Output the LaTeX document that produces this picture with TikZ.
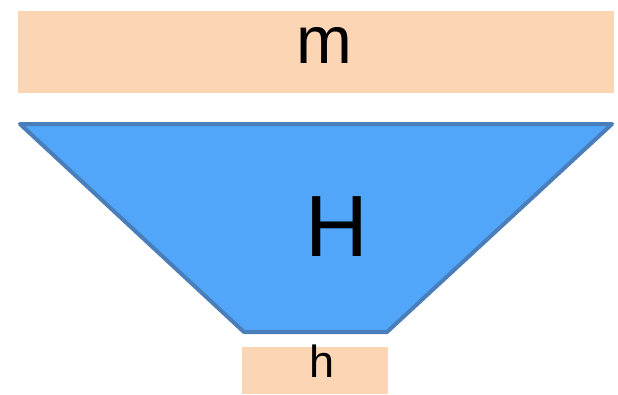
\documentclass[tikz,border=0pt]{standalone}
\usepackage{fontspec}
\setmainfont{Liberation Sans}
\definecolor{peach}{HTML}{FCD5B5}
\definecolor{funnelblue}{HTML}{52A6FA}
\definecolor{funneledge}{HTML}{4A7EBB}

\begin{document}
\begin{tikzpicture}[x=1pt,y=-1pt]
  \useasboundingbox (0,0) rectangle (618,394);
  \coordinate (A) at (20,124);
  \coordinate (B) at (612,124);
  \coordinate (C) at (387,332);
  \coordinate (D) at (244,332);
  \fill[peach] (18,11) rectangle (614,93);
  \fill[peach] (242,347) rectangle (388,394);
  \draw[funneledge,fill=funnelblue,line width=4pt,line join=round] (A)--(B)--(C)--(D)--cycle;
  \node (m) at (324,63) [anchor=base,inner sep=0pt] {\fontsize{67}{67}\selectfont m};
  \node (H) at (337,256) [anchor=base,inner sep=0pt] {\fontsize{87}{87}\selectfont H};
  \node (h) at (322,377) [anchor=base,inner sep=0pt] {\fontsize{45}{45}\selectfont h};
\end{tikzpicture}
\end{document}
